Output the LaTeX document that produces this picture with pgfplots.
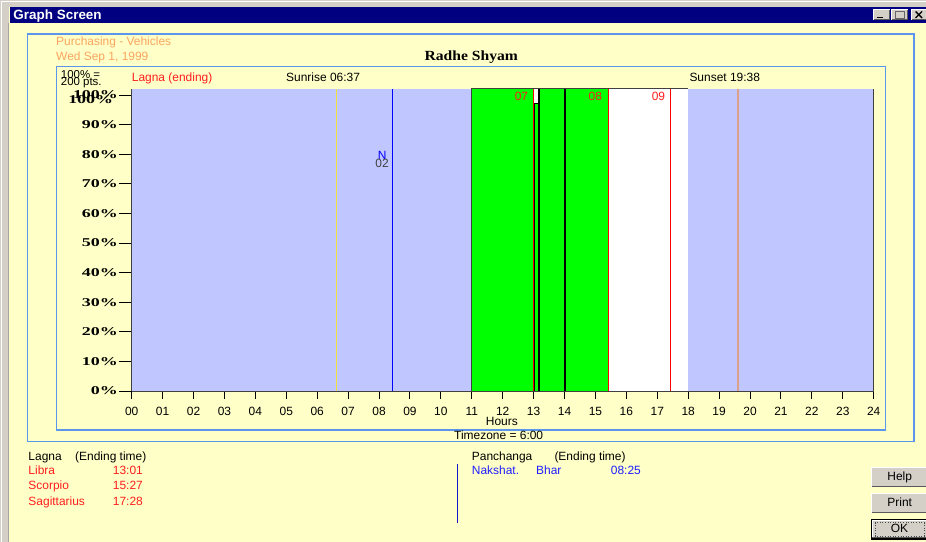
\documentclass[border=0pt]{standalone}
\usepackage{pgfplots}
\pgfplotsset{compat=1.18}
\usepackage{fontspec}
\setmainfont{Liberation Sans}
\newfontfamily\ticfont[FakeStretch=1.5]{Liberation Serif}
\newfontfamily\headfont[FakeStretch=1.12]{Liberation Serif}
\newcommand\ui{\fontsize{12}{12}\selectfont}

\definecolor{winbg}{RGB}{255,255,200}
\definecolor{wingray}{RGB}{212,208,200}
\definecolor{navy}{RGB}{0,0,128}
\definecolor{frameblue}{RGB}{90,150,235}
\definecolor{night}{RGB}{192,198,255}
\definecolor{lagred}{RGB}{255,30,30}
\definecolor{orangetxt}{RGB}{250,165,95}
\definecolor{sunrise}{RGB}{240,225,60}
\definecolor{sunset}{RGB}{220,160,140}
\definecolor{nakblue}{RGB}{30,30,255}
\definecolor{axisgray}{RGB}{64,64,64}

% 3D windows button: x1,y1,x2,y2 (pixels, y down)
\newcommand\winbtn[4]{%
  \fill[wingray] (#1,#2) rectangle (#3,#4);
  \draw[white, line width=1bp] (#1+0.5,#4-0.5) -- (#1+0.5,#2+0.5) -- (#3-0.5,#2+0.5);
  \draw[black!65, line width=1bp] (#1+0.5,#4-0.5) -- (#3-0.5,#4-0.5) -- (#3-0.5,#2+0.5);
}

\begin{document}
\begin{tikzpicture}
\begin{scope}[x=1bp,y=-1bp]
  \useasboundingbox (0,0) rectangle (926,542);
  \fill[winbg] (0,0) rectangle (926,542);
  % window chrome
  \fill[wingray] (0,0) rectangle (926,6.7);
  \fill[wingray] (0,0) rectangle (9,542);
  \draw[white, line width=1bp] (1.5,542) -- (1.5,1.5) -- (926,1.5);
  \draw[gray!70, line width=1bp] (8,22.7) -- (8,542);
  \fill[navy] (9.5,6.7) rectangle (926,22.7);
  \node[anchor=base west, inner sep=0, text=white, font=\bfseries\fontsize{13.5}{13.5}\selectfont] at (13.3,19.3) {Graph Screen};
  \winbtn{873}{9.3}{890}{20.3}
  \winbtn{891}{9.3}{908}{20.3}
  \winbtn{911}{9.3}{928}{20.3}
  \draw[black, line width=1.6bp] (877,17.6) -- (883,17.6);
  \draw[black!60, line width=0.8bp] (895,11.8) rectangle (904,18);
  \draw[black, line width=1.4bp] (915.5,11.5) -- (922,18) (915.5,18) -- (922,11.5);
  % frames
  \draw[frameblue, line width=1.5bp] (27.7,34) rectangle (914,441.7);
  \draw[frameblue, line width=1.5bp] (56.7,66.7) rectangle (885.7,430);
  % headings
  \node[anchor=base west, inner sep=0, text=orangetxt, font=\ui] at (56,45.7) {Purchasing - Vehicles};
  \node[anchor=base west, inner sep=0, text=orangetxt, font=\ui] at (56,60.7) {Wed Sep 1, 1999};
  \node[anchor=base, inner sep=0, font=\headfont\bfseries\fontsize{14}{14}\selectfont] at (471.3,61) {Radhe Shyam};
  \node[anchor=base west, inner sep=0, font=\fontsize{11.5}{11.5}\selectfont] at (60.7,79) {100\% =};
  \node[anchor=base west, inner sep=0, font=\fontsize{11.5}{11.5}\selectfont] at (60.7,85.7) {200 pts.};
  \node[anchor=base west, inner sep=0, text=lagred, font=\ui] at (131.7,81.8) {Lagna (ending)};
  \node[anchor=base west, inner sep=0, font=\ui] at (286,82) {Sunrise 06:37};
  \node[anchor=base west, inner sep=0, font=\ui] at (689.3,82) {Sunset 19:38};
  \node[anchor=base west, inner sep=0, font=\ui] at (485.7,425) {Hours};
  \node[anchor=base west, inner sep=0, font=\ui] at (454,439.3) {Timezone = 6:00};
  % lagna list
  \node[anchor=base west, inner sep=0, font=\ui] at (28.3,460.7) {Lagna};
  \node[anchor=base west, inner sep=0, font=\ui] at (75,460.7) {(Ending time)};
  \node[anchor=base west, inner sep=0, text=lagred, font=\ui] at (28.3,474) {Libra};
  \node[anchor=base west, inner sep=0, text=lagred, font=\ui] at (112.7,474) {13:01};
  \node[anchor=base west, inner sep=0, text=lagred, font=\ui] at (28.3,489.3) {Scorpio};
  \node[anchor=base west, inner sep=0, text=lagred, font=\ui] at (112.7,489.3) {15:27};
  \node[anchor=base west, inner sep=0, text=lagred, font=\ui] at (28.3,505.3) {Sagittarius};
  \node[anchor=base west, inner sep=0, text=lagred, font=\ui] at (112.7,505.3) {17:28};
  % panchanga list
  \draw[nakblue!80!black, line width=1.5bp] (457.5,464) -- (457.5,523);
  \node[anchor=base west, inner sep=0, font=\ui] at (471.7,460.7) {Panchanga};
  \node[anchor=base west, inner sep=0, font=\ui] at (554.3,460.7) {(Ending time)};
  \node[anchor=base west, inner sep=0, text=nakblue, font=\ui] at (471.7,474) {Nakshat.};
  \node[anchor=base west, inner sep=0, text=nakblue, font=\ui] at (536,474) {Bhar};
  \node[anchor=base west, inner sep=0, text=nakblue, font=\ui] at (610.7,474) {08:25};
  % buttons
  \winbtn{871}{467}{928}{487}
  \node[anchor=base, inner sep=0, font=\ui] at (899.7,480.7) {Help};
  \winbtn{871}{493}{928}{513}
  \node[anchor=base, inner sep=0, font=\ui] at (899.7,506.7) {Print};
  \fill[black] (870.7,518.7) rectangle (928,539.5);
  \winbtn{871.8}{519.8}{928}{538.4}
  \draw[black!70, line width=0.6bp, dotted] (875,522.5) rectangle (924,535.8);
  \node[anchor=base, inner sep=0, font=\ui] at (899.5,532.7) {OK};
\end{scope}

\begin{axis}[
  at={(131.7bp,-391bp)}, anchor=south west,
  scale only axis, width=742bp, height=302.5bp,
  xmin=0, xmax=24, ymin=0, ymax=102.2,
  axis x line*=bottom, axis y line*=left,
  axis line style={axisgray, line width=1bp},
  axis on top,
  tick align=outside,
  xtick={0,1,...,24},
  xticklabels={00,01,02,03,04,05,06,07,08,09,10,11,12,13,14,15,16,17,18,19,20,21,22,23,24},
  ytick={0,10,...,100},
  yticklabels={0\%,10\%,20\%,30\%,40\%,50\%,60\%,70\%,80\%,90\%,100\%},
  xtick style={black, line width=1bp, /pgfplots/major tick length=8bp},
  ytick style={black, line width=1bp, /pgfplots/major tick length=13bp},
  xticklabel style={font=\ui, inner sep=0pt, yshift=-11.5bp},
  yticklabel style={font=\ticfont\bfseries\fontsize{12}{12}\selectfont, inner sep=0pt, xshift=-9.4bp},
  clip=false,
]
% night and day window
\addplot[fill=night, draw=none] coordinates {(0,0) (0,102.2) (11,102.2) (11,0)} -- cycle;
\addplot[fill=white, draw=none] coordinates {(11,0) (11,102.2) (18,102.2) (18,0)} -- cycle;
\addplot[fill=night, draw=none] coordinates {(18,0) (18,102.2) (24,102.2) (24,0)} -- cycle;
% sunrise, nakshatra end, sunset
\addplot[sunrise, line width=1bp] coordinates {(6.61,0) (6.61,102.2)};
\addplot[blue, line width=1bp] coordinates {(8.42,0) (8.42,102.2)};
\addplot[sunset, line width=1.3bp] coordinates {(19.61,0) (19.61,102.2)};
% good periods
\addplot[fill=green, draw=axisgray, line width=0.8bp] coordinates {(11,0) (11,102.2) (12.99,102.2) (12.99,0)} -- cycle;
\addplot[fill=green, draw=black, line width=0.8bp] coordinates {(13.03,0) (13.03,97.3) (13.17,97.3) (13.17,0)} -- cycle;
\addplot[fill=green, draw=black, line width=0.8bp] coordinates {(13.17,0) (13.17,102.2) (14.02,102.2) (14.02,0)} -- cycle;
\addplot[fill=green, draw=black, line width=0.8bp] coordinates {(14.02,0) (14.02,102.2) (15.41,102.2) (15.41,0)} -- cycle;
\addplot[black, line width=2bp] coordinates {(13.18,0) (13.18,102.2)};
\addplot[black, line width=2bp] coordinates {(14.02,0) (14.02,102.2)};
% lagna endings
\addplot[red, line width=1bp] coordinates {(12.99,0) (12.99,102.2)};
\addplot[red, line width=1bp] coordinates {(15.41,0) (15.41,102.2)};
\addplot[red, line width=1bp] coordinates {(17.42,0) (17.42,102.2)};
% top edge over the window, right border
\addplot[axisgray, line width=1bp] coordinates {(11,102.2) (18,102.2)};
\addplot[axisgray, line width=1bp] coordinates {(24,0) (24,102.2)};
\node[anchor=base east, inner sep=0, text=lagred, font=\ui, xshift=-5bp] at (axis cs:12.99,98.3) {07};
\node[anchor=base east, inner sep=0, text=lagred, font=\ui, xshift=-6bp] at (axis cs:15.41,98.3) {08};
\node[anchor=base east, inner sep=0, text=lagred, font=\ui, xshift=-5bp] at (axis cs:17.42,98.3) {09};
\node[anchor=base, inner sep=0, text=blue, font=\ui] at (axis cs:8.1,78.3) {N};
\node[anchor=base, inner sep=0, text=black!75, font=\ui] at (axis cs:8.1,75.6) {02};
\node[anchor=east, inner sep=0, font=\ticfont\bfseries\fontsize{12}{12}\selectfont, xshift=-18.4bp, yshift=-4.5bp] at (axis cs:0,100) {100\%};
\end{axis}
\end{tikzpicture}
\end{document}
